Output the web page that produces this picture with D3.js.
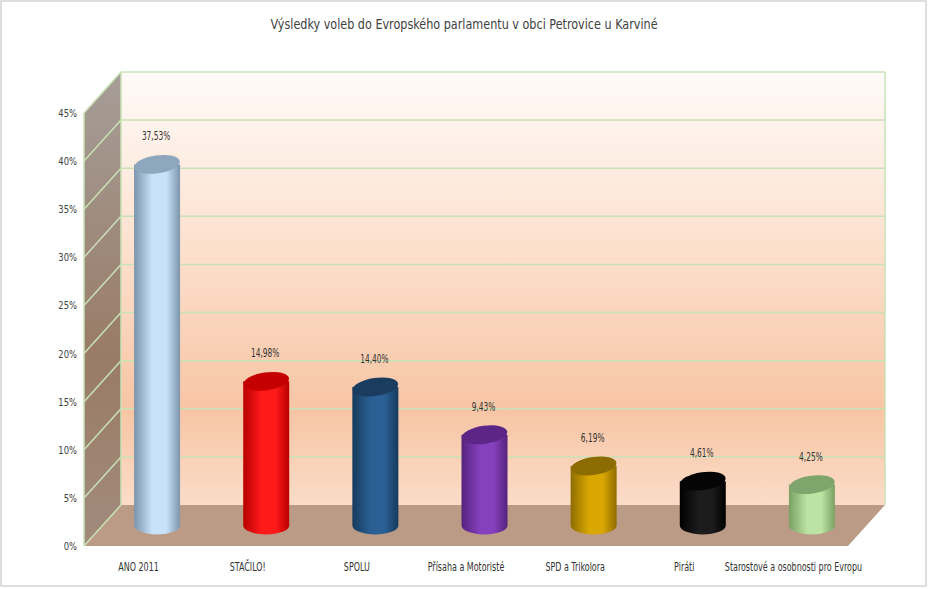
<!DOCTYPE html>
<html>
<head>
<meta charset="utf-8">
<script src="https://cdn.jsdelivr.net/npm/d3@7"></script>
<style>
  body { margin: 0; background: #fff; }
  svg text { font-family: "DejaVu Sans Condensed", "DejaVu Sans", sans-serif; fill: #404040; }
</style>
</head>
<body>
<svg id="chart" width="928" height="589"></svg>
<script>
// data
const parties = ['ANO 2011', 'STAČILO!', 'SPOLU', 'Přísaha a Motoristé', 'SPD a Trikolora', 'Piráti', 'Starostové a osobnosti pro Evropu'];
const shares = [37.53, 14.98, 14.40, 9.43, 6.19, 4.61, 4.25];
const valueLabels = ['37,53%', '14,98%', '14,40%', '9,43%', '6,19%', '4,61%', '4,25%'];
const yTicks = [0, 5, 10, 15, 20, 25, 30, 35, 40, 45];
const title = 'Výsledky voleb do Evropského parlamentu v obci Petrovice u Karviné';

// bar colours: [edge, centre, top]
const barColors = [
    ['#7d95ab', '#c9e2fa', '#8fa7bd'],
    ['#b80000', '#ff1a1a', '#c40000'],
    ['#163a5c', '#2b6094', '#1a3d5f'],
    ['#55237d', '#8540bd', '#5b2685'],
    ['#8f6d00', '#d9a602', '#8c6b00'],
    ['#000000', '#1c1c1c', '#050505'],
    ['#7aa064', '#bde3a4', '#80a56c']
];

const svg = d3.select('#chart');
const defs = svg.append('defs');

// 3d frame
const front = {left: 84, right: 848, bottom: 546, top: 113};
const depth = {dx: 37, dy: -41};

const x = d3.scaleBand()
    .domain(parties)
    .range([front.left, front.right]);

const y = d3.scaleLinear()
    .domain([0, 45])
    .range([front.bottom, front.top]);

// narrow text, the original uses Calibri
function narrow(sel, px, py, sx) {
    return sel.attr('x', 0).attr('y', 0)
        .attr('transform', (d, i) => `translate(${px(d, i)},${py(d, i)}) scale(${sx},1)`);
}

// outer border
svg.append('rect')
    .attr('x', 1).attr('y', 1)
    .attr('width', 925).attr('height', 585)
    .attr('fill', '#fff')
    .attr('stroke', '#d4d4d4')
    .attr('stroke-width', 1.5);

// title
narrow(svg.append('text').datum(title), () => 464, () => 29, 0.86)
    .attr('text-anchor', 'middle')
    .style('font-size', '14.5px')
    .text(title);

// gradients
function vGrad(id, stops) {
    const g = defs.append('linearGradient').attr('id', id)
        .attr('x1', 0).attr('y1', 0).attr('x2', 0).attr('y2', 1);
    stops.forEach(s => g.append('stop').attr('offset', s[0]).attr('stop-color', s[1]));
}
vGrad('wall', [[0, '#fffbf8'], [0.35, '#fde4d4'], [0.78, '#f7c5a4'], [1, '#fbdcc8']]);
vGrad('side', [[0, '#a69e98'], [0.6, '#997b67'], [1, '#a28b7c']]);

barColors.forEach((c, i) => {
    const g = defs.append('linearGradient').attr('id', 'bar' + i)
        .attr('x1', 0).attr('y1', 0).attr('x2', 1).attr('y2', 0);
    g.append('stop').attr('offset', 0).attr('stop-color', c[0]);
    g.append('stop').attr('offset', 0.4).attr('stop-color', c[1]);
    g.append('stop').attr('offset', 0.7).attr('stop-color', c[1]);
    g.append('stop').attr('offset', 1).attr('stop-color', c[0]);
});

const bx0 = front.left + depth.dx, bx1 = front.right + depth.dx;
const by = v => y(v) + depth.dy;

// back wall
svg.append('rect')
    .attr('x', bx0).attr('y', by(45))
    .attr('width', bx1 - bx0).attr('height', by(0) - by(45))
    .attr('fill', 'url(#wall)');

// side wall
svg.append('path')
    .attr('d', `M${front.left},${y(0)} L${front.left},${y(45)} L${bx0},${by(45)} L${bx0},${by(0)} Z`)
    .attr('fill', 'url(#side)');

// floor
svg.append('path')
    .attr('d', `M${front.left},${y(0)} L${bx0},${by(0)} L${bx1},${by(0)} L${front.right},${y(0)} Z`)
    .attr('fill', '#bb9b86');

// grid lines on back and side wall
const grid = svg.append('g')
    .attr('stroke', '#c8e2b6')
    .attr('stroke-width', 1.5)
    .attr('fill', 'none');

grid.selectAll('.hline')
    .data(yTicks.filter(d => d > 0))
    .join('line')
    .attr('x1', bx0).attr('x2', bx1)
    .attr('y1', d => by(d)).attr('y2', d => by(d));

grid.selectAll('.dline')
    .data(yTicks)
    .join('line')
    .attr('x1', front.left).attr('y1', d => y(d))
    .attr('x2', bx0).attr('y2', d => by(d));

grid.append('line')
    .attr('x1', bx0).attr('x2', bx0).attr('y1', by(0)).attr('y2', by(45));
grid.append('line')
    .attr('x1', bx1).attr('x2', bx1).attr('y1', by(0)).attr('y2', by(45));
grid.append('line')
    .attr('x1', front.left).attr('x2', front.left).attr('y1', y(0)).attr('y2', y(45));

// y axis labels
narrow(svg.append('g')
    .selectAll('text')
    .data(yTicks)
    .join('text'), () => 77, d => y(d) + 4, 0.85)
    .attr('text-anchor', 'end')
    .style('font-size', '11px')
    .text(d => d + '%');

// category labels
narrow(svg.append('g')
    .selectAll('text')
    .data(parties)
    .join('text'), d => x(d) + x.bandwidth() / 2, () => 571, 0.74)
    .attr('text-anchor', 'middle')
    .style('font-size', '12px')
    .style('fill', '#333')
    .text(d => d);

// cylinders, standing half way into the depth
const rx = 23, ry = 9;
const cx = d => x(d) + x.bandwidth() / 2 + depth.dx / 2;
const cy = v => y(v) + depth.dy / 2;

const bars = svg.append('g')
    .selectAll('g')
    .data(parties.map((p, i) => ({party: p, value: shares[i], label: valueLabels[i], i: i})))
    .join('g');

bars.append('path')
    .attr('d', d => {
        const c = cx(d.party), t = cy(d.value), b = cy(0);
        return `M${c - rx},${t} L${c - rx},${b} A${rx},${ry} 0 0 0 ${c + rx},${b} L${c + rx},${t} Z`;
    })
    .attr('fill', d => `url(#bar${d.i})`);

bars.append('ellipse')
    .attr('cx', d => cx(d.party))
    .attr('cy', d => cy(d.value))
    .attr('rx', rx)
    .attr('ry', ry)
    .attr('fill', d => barColors[d.i][2])
    .attr('transform', d => `rotate(-8,${cx(d.party)},${cy(d.value)})`);

narrow(bars.append('text'), d => cx(d.party) - 1, d => cy(d.value) - 24, 0.72)
    .attr('text-anchor', 'middle')
    .style('font-size', '11.5px')
    .style('fill', '#333')
    .text(d => d.label);
</script>
</body>
</html>
